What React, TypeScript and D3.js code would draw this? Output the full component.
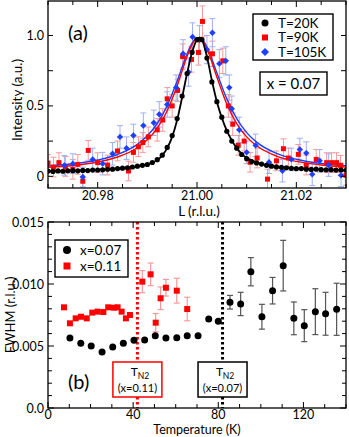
import React from "react";
import * as d3 from "d3";

const FONT = "Lato, 'Open Sans', 'DejaVu Sans', sans-serif";

// ---- panel (a): L scans at x = 0.07 ----
// [L, intensity]
const scan20K = [
  [20.970, 0.037], [20.971, 0.035], [20.972, 0.038], [20.973, 0.036], [20.974, 0.039],
  [20.975, 0.040], [20.976, 0.039], [20.977, 0.042], [20.978, 0.041], [20.979, 0.044],
  [20.980, 0.045], [20.981, 0.046], [20.982, 0.050], [20.983, 0.051], [20.984, 0.055],
  [20.985, 0.058], [20.986, 0.060], [20.987, 0.066], [20.988, 0.072], [20.989, 0.078],
  [20.990, 0.084], [20.991, 0.098], [20.992, 0.118], [20.993, 0.150], [20.994, 0.205],
  [20.995, 0.290], [20.996, 0.410], [20.997, 0.570], [20.998, 0.730], [20.999, 0.880],
  [21.000, 0.970], [21.001, 0.970], [21.002, 0.840], [21.003, 0.670], [21.004, 0.530],
  [21.005, 0.420], [21.006, 0.320], [21.007, 0.250], [21.008, 0.200], [21.009, 0.155],
  [21.010, 0.125], [21.011, 0.105], [21.012, 0.095], [21.013, 0.087], [21.014, 0.078],
  [21.015, 0.072], [21.016, 0.067], [21.017, 0.064], [21.018, 0.060], [21.019, 0.057],
  [21.020, 0.054], [21.021, 0.055], [21.022, 0.051], [21.023, 0.049], [21.024, 0.051],
  [21.025, 0.047], [21.026, 0.046], [21.027, 0.047], [21.028, 0.044], [21.029, 0.045],
  [21.030, 0.043],
];
const fit20K = [
  [20.970, 0.036], [20.975, 0.040], [20.980, 0.046], [20.984, 0.054], [20.987, 0.065],
  [20.989, 0.077], [20.991, 0.097], [20.992, 0.115], [20.993, 0.148], [20.994, 0.200],
  [20.995, 0.280], [20.996, 0.400], [20.997, 0.560], [20.998, 0.730], [20.999, 0.880],
  [21.000, 0.970], [21.0005, 0.985], [21.001, 0.970], [21.002, 0.850], [21.003, 0.680],
  [21.004, 0.530], [21.005, 0.415], [21.006, 0.325], [21.007, 0.255], [21.008, 0.200],
  [21.009, 0.160], [21.010, 0.132], [21.012, 0.100], [21.014, 0.080], [21.016, 0.068],
  [21.020, 0.056], [21.025, 0.048], [21.030, 0.042],
];
// [L, intensity, error]
const scan90K = [
  [20.9700, 0.094, 0.06], [20.9711, 0.066, 0.07], [20.9722, 0.097, 0.07], [20.9735, 0.070, 0.07],
  [20.9750, 0.050, 0.07], [20.9760, 0.085, 0.07], [20.9770, -0.035, 0.07], [20.9781, 0.184, 0.07],
  [20.9800, 0.097, 0.07], [20.9820, 0.080, 0.07], [20.9840, 0.180, 0.07], [20.9862, 0.038, 0.07],
  [20.9872, 0.170, 0.07], [20.9882, 0.210, 0.07], [20.9891, 0.240, 0.07], [20.9902, 0.280, 0.07],
  [20.9920, 0.330, 0.08], [20.9931, 0.400, 0.08], [20.9940, 0.550, 0.08], [20.9950, 0.500, 0.08],
  [20.9961, 0.610, 0.08], [20.9971, 0.850, 0.09], [20.9989, 0.830, 0.09], [21.0003, 0.880, 0.09],
  [21.0011, 1.100, 0.11], [21.0031, 0.870, 0.09], [21.0052, 0.820, 0.09], [21.0063, 0.500, 0.08],
  [21.0072, 0.370, 0.08], [21.0083, 0.220, 0.07], [21.0095, 0.250, 0.07], [21.0107, 0.100, 0.07],
  [21.0121, 0.130, 0.07], [21.0142, -0.020, 0.07], [21.0160, 0.110, 0.07], [21.0174, 0.196, 0.07],
  [21.0184, 0.130, 0.07], [21.0204, 0.156, 0.07], [21.0220, 0.080, 0.07], [21.0240, 0.120, 0.07],
  [21.0261, 0.097, 0.07], [21.0271, 0.097, 0.07], [21.0281, 0.097, 0.07], [21.0289, 0.078, 0.07],
  [21.0300, 0.007, 0.07],
];
const fit90K = [
  [20.970, 0.064], [20.975, 0.077], [20.980, 0.102], [20.984, 0.137], [20.988, 0.203],
  [20.990, 0.259], [20.992, 0.342], [20.994, 0.466], [20.996, 0.643], [20.998, 0.851],
  [20.999, 0.935], [21.000, 0.978], [21.001, 0.966], [21.002, 0.905], [21.004, 0.705],
  [21.006, 0.513], [21.008, 0.374], [21.010, 0.280], [21.012, 0.217], [21.016, 0.144],
  [21.020, 0.106], [21.025, 0.080], [21.030, 0.065],
];
const scan105K = [
  [20.9733, 0.078, 0.07], [20.9750, 0.090, 0.07], [20.9770, -0.005, 0.07], [20.9790, 0.120, 0.08],
  [20.9810, 0.090, 0.08], [20.9830, 0.160, 0.08], [20.9845, 0.280, 0.08], [20.9858, 0.200, 0.08],
  [20.9872, 0.290, 0.08], [20.9892, 0.360, 0.09], [20.9913, 0.380, 0.09], [20.9924, 0.440, 0.09],
  [20.9940, 0.510, 0.09], [20.9958, 0.630, 0.09], [20.9972, 0.870, 0.10], [20.9983, 0.740, 0.10],
  [20.9991, 0.990, 0.10], [21.0005, 0.970, 0.10], [21.0020, 0.900, 0.10], [21.0031, 1.020, 0.10],
  [21.0045, 0.800, 0.10], [21.0058, 0.820, 0.10], [21.0065, 0.630, 0.09], [21.0070, 0.480, 0.09],
  [21.0085, 0.330, 0.09], [21.0100, 0.170, 0.08], [21.0118, 0.220, 0.08], [21.0145, 0.100, 0.08],
  [21.0172, 0.040, 0.08], [21.0190, 0.120, 0.08], [21.0207, 0.190, 0.08], [21.0220, 0.165, 0.08],
  [21.0232, 0.014, 0.08], [21.0247, 0.110, 0.08], [21.0265, 0.080, 0.08], [21.0290, 0.007, 0.08],
];
const fit105K = [
  [20.970, 0.073], [20.975, 0.089], [20.980, 0.116], [20.984, 0.155], [20.988, 0.227],
  [20.990, 0.288], [20.992, 0.375], [20.994, 0.502], [20.996, 0.676], [20.998, 0.870],
  [20.999, 0.945], [21.000, 0.983], [21.001, 0.973], [21.002, 0.919], [21.004, 0.735],
  [21.006, 0.550], [21.008, 0.409], [21.010, 0.310], [21.012, 0.243], [21.016, 0.163],
  [21.020, 0.121], [21.025, 0.091], [21.030, 0.075],
];
const legendA = ["T=20K", "T=90K", "T=105K"];
const xTickLabelsA = [20.98, 21.0, 21.02];
const yTickLabelsA = [0, 0.5, 1.0];

// ---- panel (b): FWHM vs temperature ----
// [T, FWHM]
const fwhm007 = [
  [10.3, 0.00565], [15.4, 0.00522], [20.3, 0.0050], [25.4, 0.00452], [30.4, 0.00492],
  [35.4, 0.00522], [40.4, 0.00546], [45.4, 0.00548], [50.4, 0.00583], [55.4, 0.00565],
  [60.5, 0.00567], [65.4, 0.00583], [70.5, 0.00583], [75.5, 0.00718], [80.0, 0.00699],
];
// [T, FWHM, error]
const fwhm007err = [
  [85.5, 0.00853, 0.00055], [90.5, 0.00839, 0.00094], [95.3, 0.01099, 0.00114],
  [100.5, 0.00736, 0.0010], [105.5, 0.00946, 0.00107], [110.5, 0.01148, 0.00204],
  [115.5, 0.00723, 0.00132], [120.4, 0.00664, 0.00129], [125.6, 0.00777, 0.00185],
  [130.4, 0.0076, 0.00173], [135.6, 0.00796, 0.0021],
];
const fwhm011 = [
  [7.5, 0.00812], [10.3, 0.00683], [13.0, 0.00723], [15.5, 0.00736], [18.2, 0.00723],
  [20.8, 0.00769], [23.3, 0.00777], [26.0, 0.00774], [28.3, 0.00812], [31.0, 0.00809],
  [32.7, 0.00812], [34.6, 0.00777], [36.6, 0.00723], [38.5, 0.0075],
];
const fwhm011err = [
  [44.3, 0.01019, 0.00089], [48.2, 0.01078, 0.00091], [50.6, 0.00688, 0.00074],
  [52.9, 0.00885, 0.00091], [55.4, 0.0097, 0.00067], [60.5, 0.00946, 0.0010],
  [65.4, 0.00798, 0.00095],
];
const tn2 = [42, 82]; // x=0.11, x=0.07
const legendB = ["x=0.07", "x=0.11"];
const xTickLabelsB = [0, 40, 80, 120];
const yTickLabelsB = [0, 0.005, 0.01, 0.015];

const RED = "#ff0000";
const RED_ERR = "#f59a9a";
const BLUE = "#1f3fff";
const BLUE_ERR = "#9fb0f5";

function Square({ x, y, s, fill }) {
  return <rect x={x - s / 2} y={y - s / 2} width={s} height={s} fill={fill} />;
}
function Diamond({ x, y, s, fill }) {
  return <path d={`M${x},${y - s}L${x + s},${y}L${x},${y + s}L${x - s},${y}Z`} fill={fill} />;
}
function ErrBar({ x, y1, y2, cap, color, w = 1 }) {
  return (
    <g stroke={color} strokeWidth={w}>
      <line x1={x} x2={x} y1={y1} y2={y2} />
      <line x1={x - cap} x2={x + cap} y1={y1} y2={y1} />
      <line x1={x - cap} x2={x + cap} y1={y2} y2={y2} />
    </g>
  );
}

export default function App() {
  // panel a scales
  const xA = d3.scaleLinear().domain([20.97, 21.03]).range([48, 346]);
  const yA = d3.scaleLinear().domain([-0.083, 1.245]).range([188, 1]);
  // panel b scales
  const xB = d3.scaleLinear().domain([0, 140]).range([48, 346]);
  const yB = d3.scaleLinear().domain([0, 0.015]).range([408, 222]);

  const lineA = d3.line().x((d) => xA(d[0])).y((d) => yA(d[1])).curve(d3.curveMonotoneX);

  const xTicksA = d3.range(20.97, 21.0301, 0.005);
  const yTicksA = d3.range(0, 1.01, 0.25);
  const xTicksB = d3.range(0, 141, 10);
  const yTicksB = d3.range(0, 0.01501, 0.001);

  const near = (a, b) => Math.abs(a - b) < 1e-6;

  return (
    <svg width={349} height={437} style={{ position: "absolute", left: 0, top: 0, background: "#fff" }}
      fontFamily={FONT}>
      <defs>
        <clipPath id="clipA"><rect x={48} y={1} width={298} height={187} /></clipPath>
        <clipPath id="clipB"><rect x={48} y={222} width={298} height={186} /></clipPath>
      </defs>

      {/* ===== panel (a) ===== */}
      <g clipPath="url(#clipA)">
        {scan90K.map((d, i) => (
          <ErrBar key={"e90" + i} x={xA(d[0])} y1={yA(d[1] + d[2])} y2={yA(d[1] - d[2])} cap={3} color={RED_ERR} />
        ))}
        {scan105K.map((d, i) => (
          <ErrBar key={"e105" + i} x={xA(d[0])} y1={yA(d[1] + d[2])} y2={yA(d[1] - d[2])} cap={3} color={BLUE_ERR} />
        ))}
        <path d={lineA(fit105K)} fill="none" stroke={BLUE} strokeWidth={1.4} />
        <path d={lineA(fit90K)} fill="none" stroke={RED} strokeWidth={1.4} />
        {scan90K.map((d, i) => (
          <Square key={"s90" + i} x={xA(d[0])} y={yA(d[1])} s={5} fill={RED} />
        ))}
        {scan105K.map((d, i) => (
          <Diamond key={"s105" + i} x={xA(d[0])} y={yA(d[1])} s={3.2} fill={BLUE} />
        ))}
        <path d={lineA(fit20K)} fill="none" stroke="#000" strokeWidth={1.8} />
        {scan20K.map((d, i) => (
          <circle key={"s20" + i} cx={xA(d[0])} cy={yA(d[1])} r={2.6} fill="#000" />
        ))}
      </g>
      {/* frame + ticks a */}
      <rect x={48} y={1} width={298} height={187} fill="none" stroke="#000" strokeWidth={1.3} />
      <g stroke="#000" strokeWidth={1}>
        {xTicksA.map((t, i) => {
          const major = xTickLabelsA.some((v) => near(v, t));
          const len = major ? 6 : 4;
          return (
            <g key={"xta" + i}>
              <line x1={xA(t)} x2={xA(t)} y1={188} y2={188 - len} />
              <line x1={xA(t)} x2={xA(t)} y1={1} y2={1 + len} />
            </g>
          );
        })}
        {yTicksA.map((t, i) => (
          <g key={"yta" + i}>
            <line x1={48} x2={53} y1={yA(t)} y2={yA(t)} />
            <line x1={346} x2={341} y1={yA(t)} y2={yA(t)} />
          </g>
        ))}
      </g>
      <g fontSize={12.5} fill="#000">
        {xTickLabelsA.map((t) => (
          <text key={"xla" + t} x={xA(t)} y={199.5} textAnchor="middle">{t.toFixed(2)}</text>
        ))}
        {yTickLabelsA.map((t) => (
          <text key={"yla" + t} x={44} y={yA(t) + 4.5} textAnchor="end">{t === 0 ? "0" : t.toFixed(1)}</text>
        ))}
      </g>
      <text x={199} y={216} textAnchor="middle" fontSize={13.5}>L (r.l.u.)</text>
      <text transform="translate(22,100) rotate(-90)" textAnchor="middle" fontSize={13.5}>Intensity (a.u.)</text>
      <text x={68} y={40} fontSize={20}>(a)</text>

      {/* legend a */}
      <rect x={253} y={14} width={80} height={46} fill="#fff" stroke="#000" strokeWidth={1.4} />
      <circle cx={265} cy={23} r={3.5} fill="#000" />
      <Square x={265} y={37.5} s={6} fill={RED} />
      <Diamond x={265} y={52} s={4} fill={BLUE} />
      <g fontSize={13.5}>
        {legendA.map((t, i) => (
          <text key={t} x={278} y={27.5 + i * 14.5}>{t}</text>
        ))}
      </g>
      <rect x={260} y={72} width={67} height={23} fill="#fff" stroke="#000" strokeWidth={1.4} />
      <text x={293.5} y={89} textAnchor="middle" fontSize={15}>x = 0.07</text>

      {/* ===== panel (b) ===== */}
      <g strokeWidth={3} strokeDasharray="2.5,2.5">
        <line x1={xB(tn2[0])} x2={xB(tn2[0])} y1={222} y2={408} stroke={RED} />
        <line x1={xB(tn2[1])} x2={xB(tn2[1])} y1={222} y2={408} stroke="#000" />
      </g>
      <g clipPath="url(#clipB)">
        {fwhm011err.map((d, i) => (
          <ErrBar key={"eb11" + i} x={xB(d[0])} y1={yB(d[1] + d[2])} y2={yB(d[1] - d[2])} cap={3} color={RED_ERR} w={1.2} />
        ))}
        {fwhm007err.map((d, i) => (
          <ErrBar key={"eb07" + i} x={xB(d[0])} y1={yB(d[1] + d[2])} y2={yB(d[1] - d[2])} cap={3} color="#555" w={1.2} />
        ))}
        {fwhm011.concat(fwhm011err).map((d, i) => (
          <Square key={"sb11" + i} x={xB(d[0])} y={yB(d[1])} s={6} fill={RED} />
        ))}
        {fwhm007.concat(fwhm007err).map((d, i) => (
          <circle key={"sb07" + i} cx={xB(d[0])} cy={yB(d[1])} r={3.5} fill="#000" />
        ))}
      </g>
      <rect x={48} y={222} width={298} height={186} fill="none" stroke="#000" strokeWidth={1.3} />
      <g stroke="#000" strokeWidth={1}>
        {xTicksB.map((t, i) => {
          const len = xTickLabelsB.includes(t) ? 6 : 4;
          return (
            <g key={"xtb" + i}>
              <line x1={xB(t)} x2={xB(t)} y1={408} y2={408 - len} />
              <line x1={xB(t)} x2={xB(t)} y1={222} y2={222 + len} />
            </g>
          );
        })}
        {yTicksB.map((t, i) => {
          const len = yTickLabelsB.some((v) => near(v, t)) ? 6 : 4;
          return (
            <g key={"ytb" + i}>
              <line x1={48} x2={48 + len} y1={yB(t)} y2={yB(t)} />
              <line x1={346} x2={346 - len} y1={yB(t)} y2={yB(t)} />
            </g>
          );
        })}
      </g>
      <g fontSize={12.5} fill="#000">
        {xTickLabelsB.map((t) => (
          <text key={"xlb" + t} x={xB(t)} y={418.5} textAnchor="middle">{t}</text>
        ))}
        {yTickLabelsB.map((t) => (
          <text key={"ylb" + t} x={44} y={yB(t) + 4.5} textAnchor="end">{t === 0 ? "0.0" : t.toFixed(3)}</text>
        ))}
      </g>
      <text x={197} y={434.3} textAnchor="middle" fontSize={12.5}>Temperature (K)</text>
      <text transform="translate(15,315) rotate(-90)" textAnchor="middle" fontSize={13}>FWHM (r.l.u.)</text>
      <text x={68} y={389} fontSize={20}>(b)</text>

      {/* legend b */}
      <rect x={55} y={240} width={73} height={37} fill="#fff" stroke="#000" strokeWidth={1.4} />
      <circle cx={67} cy={250} r={4} fill="#000" />
      <Square x={67} y={266} s={7} fill={RED} />
      <g fontSize={13.5}>
        {legendB.map((t, i) => (
          <text key={t} x={80} y={255 + i * 16}>{t}</text>
        ))}
      </g>

      {/* T_N2 boxes */}
      {[{ t: tn2[0], c: RED, lab: "(x=0.11)" }, { t: tn2[1], c: "#000", lab: "(x=0.07)" }].map((b) => (
        <g key={b.lab}>
          <rect x={xB(b.t) - 24.5} y={362} width={49} height={35} fill="#fff" stroke={b.c} strokeWidth={1.5} />
          <text x={xB(b.t) - 3} y={376} textAnchor="middle" fontSize={12}>T</text>
          <text x={xB(b.t) + 6} y={379} textAnchor="middle" fontSize={8.5}>N2</text>
          <text x={xB(b.t)} y={392} textAnchor="middle" fontSize={11}>{b.lab}</text>
        </g>
      ))}
    </svg>
  );
}
